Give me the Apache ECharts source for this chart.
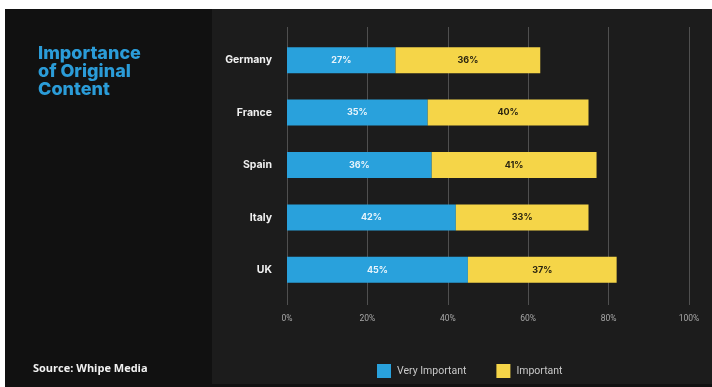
<!DOCTYPE html>
<html>
<head>
<meta charset="utf-8">
<script src="https://cdn.jsdelivr.net/npm/echarts@6/dist/echarts.min.js"></script>
<style>
  html, body { margin: 0; padding: 0; background: #ffffff; }
  #chart { width: 712px; height: 387px; }
</style>
</head>
<body>
<div id="chart"></div>
<script>
// Survey: importance of original content, by country (% of respondents)
const countries = ['Germany', 'France', 'Spain', 'Italy', 'UK'];
const veryImportant = [27, 35, 36, 42, 45];
const important = [36, 40, 41, 33, 37];
const xTicks = [0, 20, 40, 60, 80, 100];

const BLUE = '#29a1dc';
const YELLOW = '#f5d548';

const chart = echarts.init(document.getElementById('chart'), null, { renderer: 'canvas' });

const option = {
  backgroundColor: '#ffffff',
  animation: false,
  graphic: [
    { type: 'rect', z: -10, shape: { x: 5, y: 9, width: 207, height: 378 }, style: { fill: '#111111' } },
    { type: 'rect', z: -10, shape: { x: 212, y: 9, width: 500, height: 375 }, style: { fill: '#1c1c1c' } },
    { type: 'rect', z: -10, shape: { x: 212, y: 384, width: 500, height: 3 }, style: { fill: '#111111' } },
    {
      type: 'text', left: 33, top: 363, z: 10,
      style: { text: 'Source: Whipe Media', fill: '#f2f2f2', font: 'bold 11px "Open Sans", sans-serif' }
    }
  ],
  title: {
    text: 'Importance\nof Original\nContent',
    left: 33,
    top: 40,
    textStyle: {
      color: '#2b9cd8',
      fontSize: 18,
      fontWeight: 800,
      lineHeight: 18,
      fontFamily: 'Inter, sans-serif'
    }
  },
  legend: {
    left: 372,
    top: 359,
    itemWidth: 14,
    itemHeight: 14,
    itemGap: 30,
    icon: 'rect',
    data: ['Very Important', 'Important'],
    textStyle: { color: '#c8c8c8', fontSize: 10.5, fontFamily: 'Roboto, sans-serif', padding: [0, 0, 0, 1] }
  },
  grid: [
    { left: 287, right: 23, top: 34, bottom: 91 },
    { left: 287, right: 23, top: 27, bottom: 82 }
  ],
  xAxis: [
    {
      type: 'value', gridIndex: 0, min: 0, max: 100, interval: 20,
      axisLine: { show: false }, axisTick: { show: false },
      axisLabel: { show: false }, splitLine: { show: false }
    },
    {
      type: 'value', gridIndex: 1, min: 0, max: 100, interval: 20,
      axisLine: { show: false }, axisTick: { show: false },
      splitLine: { show: true, lineStyle: { color: '#4f4f4f', width: 1 } },
      axisLabel: {
        margin: 9,
        color: '#a8a8a8',
        fontSize: 8.5,
        fontFamily: 'Roboto, sans-serif',
        formatter: v => xTicks.includes(v) ? v + '%' : ''
      }
    }
  ],
  yAxis: [
    {
      type: 'category', gridIndex: 0, data: countries, inverse: true,
      axisLine: { show: false }, axisTick: { show: false },
      axisLabel: {
        margin: 15,
        color: '#f0f0f0',
        fontSize: 10.5,
        fontWeight: 'bold',
        fontFamily: 'Inter, sans-serif'
      }
    },
    {
      type: 'category', gridIndex: 1, data: [''],
      axisLine: { show: false }, axisTick: { show: false }, axisLabel: { show: false }
    }
  ],
  series: [
    {
      name: 'Very Important',
      type: 'bar',
      stack: 'total',
      xAxisIndex: 0, yAxisIndex: 0,
      barWidth: 26,
      itemStyle: { color: BLUE },
      label: {
        show: true, position: 'inside',
        formatter: '{c}%', color: '#e8f4fb', fontSize: 9, fontWeight: 'bold',
        fontFamily: 'Inter, sans-serif'
      },
      data: veryImportant
    },
    {
      name: 'Important',
      type: 'bar',
      stack: 'total',
      xAxisIndex: 0, yAxisIndex: 0,
      barWidth: 26,
      itemStyle: { color: YELLOW },
      label: {
        show: true, position: 'inside',
        formatter: '{c}%', color: '#2a2410', fontSize: 9, fontWeight: 'bold',
        fontFamily: 'Inter, sans-serif'
      },
      data: important
    }
  ]
};

chart.setOption(option);
</script>
</body>
</html>
